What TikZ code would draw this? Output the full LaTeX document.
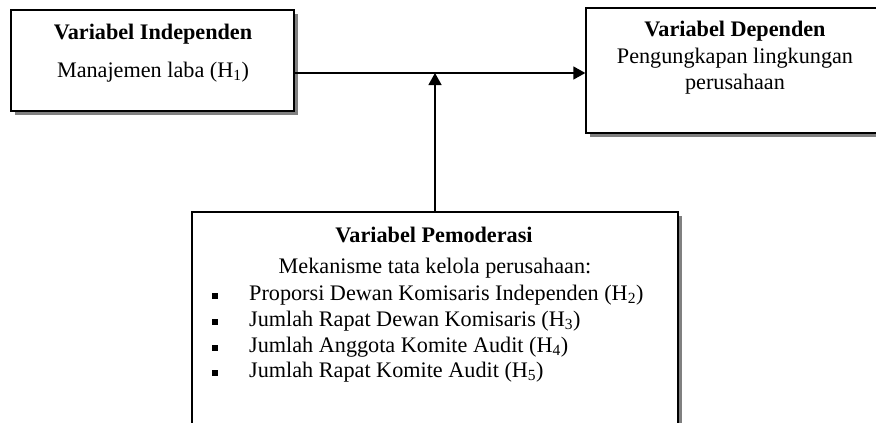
\documentclass[tikz,border=0pt]{standalone}
\usepackage{fontspec}
\setmainfont{Liberation Serif}
\usetikzlibrary{arrows.meta,shadows}
\begin{document}
\begin{tikzpicture}[x=1pt,y=-1pt,
  box/.style={draw=black,line width=1.3pt,fill=white,rectangle,inner sep=0pt,
    drop shadow={shadow xshift=3.5pt,shadow yshift=-3.5pt,fill=black!50,opacity=1}},
  txt/.style={anchor=base,inner sep=0pt,font=\fontsize{22.2}{26}\selectfont},
  ttl/.style={txt,font=\fontsize{22.2}{26}\selectfont\bfseries},
  item/.style={txt,anchor=base west},
  bul/.style={fill=black,inner sep=0pt,minimum size=6pt,rectangle},
  conn/.style={line width=1.3pt,-{Triangle[length=12pt,width=13pt]}}]
\useasboundingbox (0,0) rectangle (876,423);
% boxes
\node[box,minimum width=283pt,minimum height=101pt] (indep) at (152.5,60.5) {};
\node[box,minimum width=304pt,minimum height=125pt] (dep) at (738,70.5) {};
\node[box,minimum width=486pt,minimum height=230pt] (mod) at (435,327) {};
% texts
\node[ttl] (t1) at (153,39) {Variabel Independen};
\node[txt] (t2) at (153,77) {Manajemen laba (H\textsubscript{1})};
\node[ttl] (t3) at (735,36) {Variabel Dependen};
\node[txt] (t4) at (735,63) {Pengungkapan lingkungan};
\node[txt] (t5) at (735,89) {perusahaan};
\node[ttl] (t6) at (434,242) {Variabel Pemoderasi};
\node[txt] (t7) at (435,273) {Mekanisme tata kelola perusahaan:};
\node[item] (i1) at (249,300) {Proporsi Dewan Komisaris Independen (H\textsubscript{2})};
\node[item] (i2) at (249,326) {Jumlah Rapat Dewan Komisaris (H\textsubscript{3})};
\node[item] (i3) at (249,352) {Jumlah Anggota Komite Audit (H\textsubscript{4})};
\node[item] (i4) at (249,377) {Jumlah Rapat Komite Audit (H\textsubscript{5})};
\node[bul] (b1) at (215,296) {};
\node[bul] (b2) at (215,322) {};
\node[bul] (b3) at (215,348) {};
\node[bul] (b4) at (215,373) {};
% connectors
\coordinate (hs) at (indep.east |- 0,73);
\coordinate (he) at (dep.west |- 0,73);
\coordinate (vt) at (mod.north |- 0,73);
\draw[conn] (hs) -- (he);
\draw[conn] (mod.north) -- (vt);
\end{tikzpicture}
\end{document}
